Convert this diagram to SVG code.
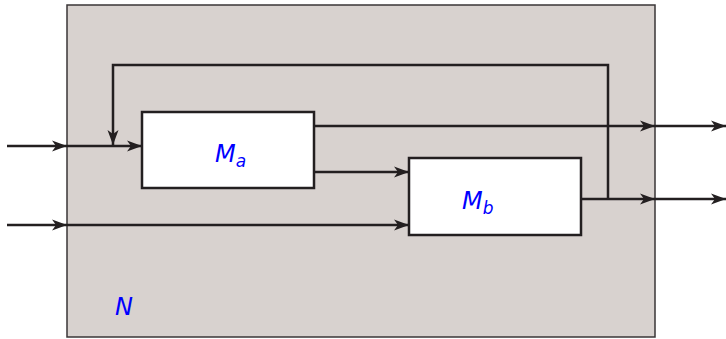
<svg xmlns="http://www.w3.org/2000/svg" width="726" height="339" viewBox="0 0 726 339">
<style>
.ln{fill:none;stroke:#231f20;stroke-width:2.5}
.box{fill:#fff;stroke:#231f20;stroke-width:2.5}
.lbl{font-family:"DejaVu Sans",sans-serif;font-style:italic;fill:#0000ff}
</style>
<defs>
<marker id="ah" markerWidth="16" markerHeight="12" refX="15" refY="6" orient="auto" markerUnits="userSpaceOnUse">
<path d="M0,0.5 L15,6 L0,11.5 L4,6 Z" fill="#231f20"/>
</marker>
</defs>
<g id="N">
<rect x="67" y="5" width="588" height="332" fill="#d8d2cf" stroke="#3a3637" stroke-width="1.5"/>
<text class="lbl" x="115" y="315" font-size="24">N</text>
</g>
<g id="connectors">
<path class="ln" d="M7,146 H67" marker-end="url(#ah)"/>
<path class="ln" d="M67,146 H142" marker-end="url(#ah)"/>
<path class="ln" d="M7,225 H67" marker-end="url(#ah)"/>
<path class="ln" d="M67,225 H409" marker-end="url(#ah)"/>
<path class="ln" d="M314,172 H409" marker-end="url(#ah)"/>
<path class="ln" d="M314,126 H655" marker-end="url(#ah)"/>
<path class="ln" d="M655,126 H726" marker-end="url(#ah)"/>
<path class="ln" d="M581,199 H655" marker-end="url(#ah)"/>
<path class="ln" d="M655,199 H726" marker-end="url(#ah)"/>
<path class="ln" d="M608,199 V65 H113 V145" marker-end="url(#ah)"/>
</g>
<g id="Ma">
<rect class="box" x="142" y="112" width="172" height="76"/>
<text class="lbl" x="215" y="162" font-size="24">M<tspan font-size="17" dy="5">a</tspan></text>
</g>
<g id="Mb">
<rect class="box" x="409" y="158" width="172" height="77"/>
<text class="lbl" x="462" y="209" font-size="24">M<tspan font-size="17" dy="5">b</tspan></text>
</g>
</svg>
